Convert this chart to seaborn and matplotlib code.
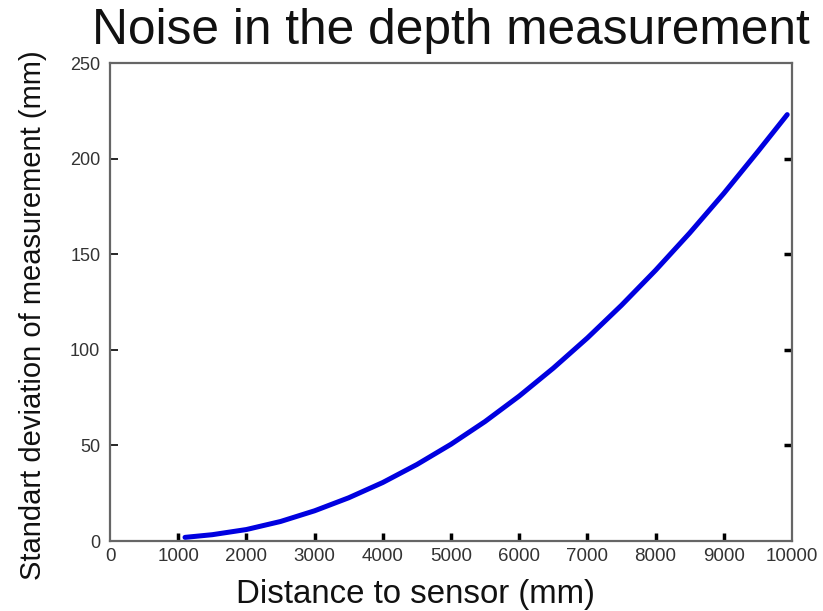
import matplotlib
matplotlib.use("Agg")
import matplotlib.pyplot as plt
import seaborn as sns
import pandas as pd

distance_mm = [1100, 1500, 2000, 2500, 3000, 3500, 4000, 4500, 5000, 5500,
               6000, 6500, 7000, 7500, 8000, 8500, 9000, 9500, 9930]
std_mm = [1.9, 3.3, 6.0, 10.2, 15.8, 22.6, 30.6, 40.0, 50.6, 62.5,
          75.8, 90.4, 106.2, 123.3, 141.6, 161.1, 181.8, 203.7, 223.0]
x_ticks = [0, 1000, 2000, 3000, 4000, 5000, 6000, 7000, 8000, 9000, 10000]
y_ticks = [0, 50, 100, 150, 200, 250]

sns.set_style("white")
plt.rcParams['font.family'] = ['Liberation Sans', 'DejaVu Sans']

df = pd.DataFrame({"d": distance_mm, "s": std_mm})

fig = plt.figure(figsize=(8.23, 6.11), dpi=100)
L, R, B, T = 110, 792, 541, 63
W, H = 823, 611
ax = fig.add_axes([L / W, 1 - B / H, (R - L) / W, (B - T) / H])
sns.lineplot(data=df, x="d", y="s", ax=ax, color="#0000e0", linewidth=3.6)

ax.set_xlim(0, 10000)
ax.set_ylim(0, 250)
ax.set_xticks(x_ticks)
ax.set_yticks(y_ticks)
ax.set_xticklabels([str(v) for v in x_ticks], color="#333333", fontsize=13.5)
ax.set_yticklabels([str(v) for v in y_ticks], color="#333333", fontsize=13)
ax.tick_params(direction="in", length=6, width=2.5, color="black",
               top=False, right=True, bottom=True, left=True)
ax.tick_params(axis="x", pad=5)
ax.tick_params(axis="y", pad=7)
yt = ax.yaxis.get_major_ticks()
for t in yt:
    t.tick1line.set_color("#555555")
    t.tick1line.set_markeredgewidth(1.2)
for t in (yt[0], yt[-1]):
    t.tick1line.set_visible(False)
    t.tick2line.set_visible(False)
xt = ax.xaxis.get_major_ticks()
for t in (xt[0], xt[-1]):
    t.tick1line.set_visible(False)
for sp in ax.spines.values():
    sp.set_color("#666666")
    sp.set_linewidth(1.6)

ax.set_xlabel("Distance to sensor (mm)", fontsize=23.8, color="#111111")
ax.xaxis.label.set_va("baseline")
ax.xaxis.set_label_coords((415.5 - L) / (R - L), (B - 603) / (B - T))
ax.set_ylabel("Standart deviation of measurement (mm)", fontsize=21, color="#111111")
ax.yaxis.label.set_va("baseline")
ax.yaxis.set_label_coords((41 - L) / (R - L), (B - 315) / (B - T))

fig.text(450.5 / W, 1 - 44 / H, "Noise in the depth measurement", fontsize=35.7,
         ha="center", va="baseline", color="#111111")

fig.savefig("out.png", dpi=100)
